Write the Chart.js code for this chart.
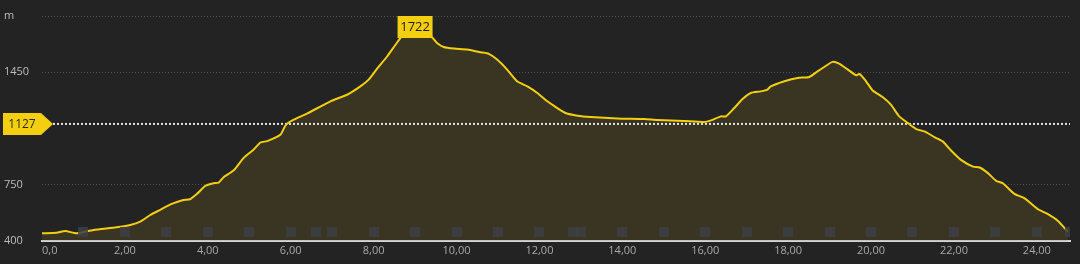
<!DOCTYPE html>
<html><head><meta charset="utf-8">
<script src="https://cdn.jsdelivr.net/npm/chart.js@4/dist/chart.umd.min.js"></script>
<style>html,body{margin:0;padding:0;background:#232323;overflow:hidden}canvas{display:block}</style>
</head><body><canvas id="c" width="1080" height="264"></canvas>
<script>
const distanceKm = [0.0,0.35,0.56,0.84,1.24,1.80,2.13,2.37,2.61,2.85,3.13,3.41,3.57,3.74,3.94,4.14,4.26,4.38,4.62,4.86,5.10,5.27,5.43,5.75,5.88,6.05,6.39,6.96,7.36,7.68,7.88,8.08,8.33,8.53,8.70,8.85,9.00,9.20,9.42,9.53,9.69,9.94,10.26,10.58,10.78,10.98,11.22,11.46,11.71,11.95,12.19,12.43,12.63,12.92,13.24,13.88,14.53,14.85,15.49,15.97,16.14,16.38,16.50,16.70,16.90,17.10,17.34,17.50,17.58,17.91,18.23,18.51,18.71,18.87,19.07,19.23,19.44,19.64,19.72,19.88,20.04,20.28,20.48,20.68,20.89,21.09,21.29,21.53,21.73,21.93,22.17,22.46,22.62,22.82,23.02,23.18,23.46,23.70,24.03,24.27,24.51,24.71,24.75];
const elevationM = [445,449,459,445,466,482,497,518,559,591,628,653,657,691,741,757,761,795,836,914,966,1011,1020,1059,1120,1150,1191,1268,1309,1361,1403,1470,1549,1622,1680,1710,1722,1710,1665,1632,1607,1597,1591,1574,1564,1528,1466,1393,1361,1320,1268,1226,1195,1178,1170,1161,1157,1151,1145,1139,1149,1174,1174,1226,1282,1320,1330,1341,1361,1393,1414,1420,1455,1482,1514,1503,1466,1430,1439,1393,1336,1295,1247,1174,1132,1095,1080,1045,1018,961,903,861,855,820,772,757,691,664,595,564,522,466,455];
const waypointKm = [1,2,3,4,5,6,6.6,7,8,9,10,11,12,12.8,13,14,15,16,17,18,19,20,21,22,23,24,24.8];
const yTickValues = [400,750,1450,1800];
const yTickLabels = ['400','750','1450','m'];
const xTickValues = [0,2,4,6,8,10,12,14,16,18,20,22,24];
const xTickLabels = ['0,0','2,00','4,00','6,00','8,00','10,00','12,00','14,00','16,00','18,00','20,00','22,00','24,00'];
const averageElevation = 1127;
const averageLabel = '1127';
const peakKm = 9.0;
const peakLabel = '1722';

const FONT = '"Open Sans", "DejaVu Sans", sans-serif';
const YELLOW = '#f3cf0f';

const overlay = {
  id: 'overlay',
  beforeDatasetDraw(chart, args) {
    if (args.index !== 0) return;
    const {ctx, chartArea: a, scales: {y}} = chart;
    const py = y.getPixelForValue(averageElevation);
    ctx.save();
    ctx.strokeStyle = '#e2e2e2';
    ctx.lineWidth = 2;
    ctx.setLineDash([2, 2]);
    ctx.beginPath();
    ctx.moveTo(53, py);
    ctx.lineTo(a.right, py);
    ctx.stroke();
    ctx.restore();
  },
  afterDatasetsDraw(chart) {
    const {ctx, chartArea: a, scales: {x}} = chart;
    ctx.save();
    ctx.beginPath();
    ctx.rect(a.left, a.top, a.right - a.left, a.bottom - a.top);
    ctx.clip();
    ctx.fillStyle = 'rgba(62,63,70,0.85)';
    waypointKm.forEach(k => {
      const px = x.getPixelForValue(k);
      ctx.fillRect(Math.round(px) - 5, a.bottom - 13.5, 10, 10);
    });
    ctx.restore();
  },
  afterDraw(chart) {
    const {ctx, chartArea: a, scales: {x, y}} = chart;
    ctx.save();
    ctx.fillStyle = '#a9a9a9';
    ctx.font = '11px ' + FONT;
    ctx.textBaseline = 'middle';
    xTickValues.forEach((v, i) => {
      const px = x.getPixelForValue(v);
      ctx.textAlign = i === 0 ? 'left' : 'center';
      ctx.fillText(xTickLabels[i], px, a.bottom + 10.5);
    });
    const py = y.getPixelForValue(averageElevation);
    ctx.fillStyle = YELLOW;
    ctx.beginPath();
    ctx.moveTo(3, py - 11);
    ctx.lineTo(41, py - 11);
    ctx.lineTo(53, py);
    ctx.lineTo(41, py + 11);
    ctx.lineTo(3, py + 11);
    ctx.closePath();
    ctx.fill();
    ctx.fillStyle = '#2e2a10';
    ctx.font = '12px ' + FONT;
    ctx.textAlign = 'center';
    ctx.fillText(averageLabel, 22, py + 0.5);
    const pk = x.getPixelForValue(peakKm);
    ctx.fillStyle = YELLOW;
    ctx.fillRect(pk - 17.5, a.top, 35, 22);
    ctx.fillStyle = '#1e1a05';
    ctx.font = '13px ' + FONT;
    ctx.fillText(peakLabel, pk, a.top + 11.5);
    ctx.restore();
  }
};

new Chart(document.getElementById('c'), {
  type: 'line',
  data: {
    datasets: [{
      data: distanceKm.map((d, i) => ({x: d, y: elevationM[i]})),
      borderColor: YELLOW,
      borderWidth: 2,
      backgroundColor: '#3a3422',
      fill: 'start',
      pointRadius: 0,
      tension: 0.2
    }]
  },
  options: {
    responsive: false,
    devicePixelRatio: 1,
    animation: false,
    layout: {padding: {left: 4, right: 10, top: 16, bottom: 0}},
    plugins: {legend: {display: false}, tooltip: {enabled: false}},
    scales: {
      x: {
        type: 'linear', min: 0, max: 24.8,
        grid: {display: false},
        border: {display: true, color: '#d6d6d6', width: 2},
        ticks: {display: false},
        afterFit(s) { s.height = 23.5; }
      },
      y: {
        type: 'linear', min: 400, max: 1800,
        afterBuildTicks(s) { s.ticks = yTickValues.map(v => ({value: v})); },
        afterFit(s) { s.width = 38; },
        grid: {color: '#4e4e4e', lineWidth: 1, drawTicks: false},
        border: {display: false, dash: [1, 2]},
        ticks: {
          crossAlign: 'far', padding: 0, color: '#bdbdbd',
          font: {family: FONT, size: 11},
          callback: v => yTickLabels[yTickValues.indexOf(v)]
        }
      }
    }
  },
  plugins: [overlay]
});
</script></body></html>
